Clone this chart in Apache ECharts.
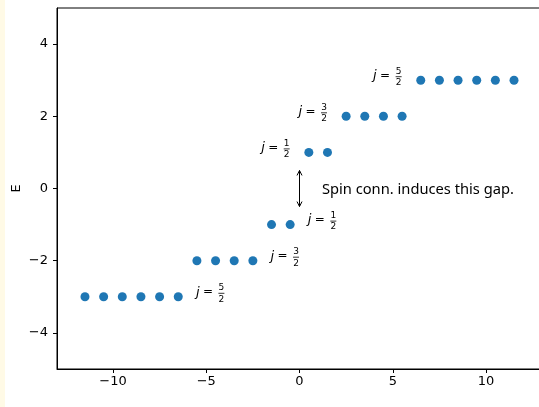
<!DOCTYPE html>
<html><head><meta charset="utf-8">
<script src="https://cdn.jsdelivr.net/npm/echarts@6/dist/echarts.min.js"></script>
<style>html,body{margin:0;padding:0;background:#fff}#c{width:539px;height:407px}</style>
</head><body><div id="c"></div>
<script>
// ---- data ----
const stateX = [6.5, 7.5, 8.5, 9.5, 10.5, 11.5,
                2.5, 3.5, 4.5, 5.5,
                0.5, 1.5,
                -1.5, -0.5,
                -5.5, -4.5, -3.5, -2.5,
                -11.5, -10.5, -9.5, -8.5, -7.5, -6.5];
const stateE = [3, 3, 3, 3, 3, 3,
                2, 2, 2, 2,
                1, 1,
                -1, -1,
                -2, -2, -2, -2,
                -3, -3, -3, -3, -3, -3];
const labelX = [4, 0, -2, 0.5, -1.5, -5.5];
const labelE = [3, 2, 1, -1, -2, -3];
const labelNum = ['5', '3', '1', '1', '3', '5'];
const labelDen = ['2', '2', '2', '2', '2', '2'];
const gapText = 'Spin conn. induces this gap.';
const gapTextPos = [1.2, 0];
const arrowTop = [0, 0.5];
const arrowBottom = [0, -0.5];
const xTicks = [-10, -5, 0, 5, 10];
const yTicks = [-4, -2, 0, 2, 4];
const xRange = [-13, 13];
const yRange = [-5, 5];
const yName = 'E';

// ---- chart ----
const chart = echarts.init(document.getElementById('c'), null, {renderer: 'canvas'});
const tickFont = '"DejaVu Sans", sans-serif';
const fmt = v => String(v).replace('-', '\u2212');
const mathFont = '"DejaVu Sans", sans-serif';

chart.setOption({
  animation: false,
  backgroundColor: '#fff',
  graphic: [{
    type: 'rect', left: 0, top: 0, z: -10,
    shape: {x: 0, y: 0, width: 5, height: 407},
    style: {fill: '#fffae6'}
  }],
  grid: {left: 57, top: 8, width: 485, height: 361, outerBoundsMode: 'none', containLabel: false,
         show: true, borderColor: '#000', borderWidth: 1, backgroundColor: 'transparent'},
  xAxis: {
    type: 'value', min: xRange[0], max: xRange[1],
    axisLine: {show: true, onZero: false, lineStyle: {color: '#000', width: 1}},
    axisTick: {show: true, length: 4, lineStyle: {color: '#000'}, customValues: xTicks},
    axisLabel: {show: true, customValues: xTicks, formatter: fmt, margin: 6, color: '#000', fontSize: 13, fontFamily: tickFont},
    splitLine: {show: false}
  },
  yAxis: {
    type: 'value', min: yRange[0], max: yRange[1],
    name: yName, nameLocation: 'middle', nameGap: 34, nameMoveOverlap: false,
    nameTextStyle: {color: '#000', fontSize: 13, fontFamily: tickFont},
    axisLine: {show: true, onZero: false, lineStyle: {color: '#000', width: 1}},
    axisTick: {show: true, length: 4, lineStyle: {color: '#000'}, customValues: yTicks},
    axisLabel: {show: true, customValues: yTicks, formatter: fmt, margin: 9, color: '#000', fontSize: 13, fontFamily: tickFont},
    splitLine: {show: false}
  },
  series: [
    {
      type: 'scatter',
      data: stateX.map((x, i) => [x, stateE[i]]),
      symbol: 'circle', symbolSize: 9,
      itemStyle: {color: '#1f77b4', opacity: 1},
      emphasis: {disabled: true}
    },
    {
      type: 'custom',
      data: labelX.map((x, i) => [x, labelE[i]]),
      silent: true,
      renderItem: function (params, api) {
        const i = params.dataIndex;
        const p = api.coord([labelX[i], labelE[i]]);
        const x = p[0], y = p[1];
        return {
          type: 'group',
          children: [
            {type: 'text', style: {x: x - 1, y: y - 4.5, text: 'j', fill: '#000', font: 'italic 13px ' + mathFont, align: 'left', verticalAlign: 'middle'}},
            {type: 'text', style: {x: x + 6, y: y - 4.5, text: '=', fill: '#000', font: '12px ' + mathFont, align: 'left', verticalAlign: 'middle'}},
            {type: 'text', style: {x: x + 24.5, y: y - 9, text: labelNum[i], fill: '#000', font: '9px ' + mathFont, align: 'center', verticalAlign: 'middle'}},
            {type: 'line', shape: {x1: x + 21.5, y1: y - 3.5, x2: x + 27.5, y2: y - 3.5}, style: {stroke: '#000', lineWidth: 0.8}},
            {type: 'text', style: {x: x + 24.5, y: y + 2.5, text: labelDen[i], fill: '#000', font: '9px ' + mathFont, align: 'center', verticalAlign: 'middle'}}
          ]
        };
      }
    },
    {
      type: 'custom',
      data: [[gapTextPos[0], gapTextPos[1]]],
      silent: true,
      renderItem: function (params, api) {
        const t = api.coord(arrowTop);
        const b = api.coord(arrowBottom);
        const g = api.coord(gapTextPos);
        const hw = 2.5, hl = 5;
        return {
          type: 'group',
          children: [
            {type: 'line', shape: {x1: t[0], y1: t[1], x2: b[0], y2: b[1]}, style: {stroke: '#000', lineWidth: 1}},
            {type: 'polyline', shape: {points: [[t[0] - hw, t[1] + hl], [t[0], t[1]], [t[0] + hw, t[1] + hl]]}, style: {stroke: '#000', lineWidth: 1, fill: null}},
            {type: 'polyline', shape: {points: [[b[0] - hw, b[1] - hl], [b[0], b[1]], [b[0] + hw, b[1] - hl]]}, style: {stroke: '#000', lineWidth: 1, fill: null}},
            {type: 'text', style: {x: g[0], y: g[1] + 1, text: gapText, fill: '#000', font: '14.7px "Noto Sans", sans-serif', align: 'left', verticalAlign: 'middle'}}
          ]
        };
      }
    }
  ]
});
</script></body></html>
